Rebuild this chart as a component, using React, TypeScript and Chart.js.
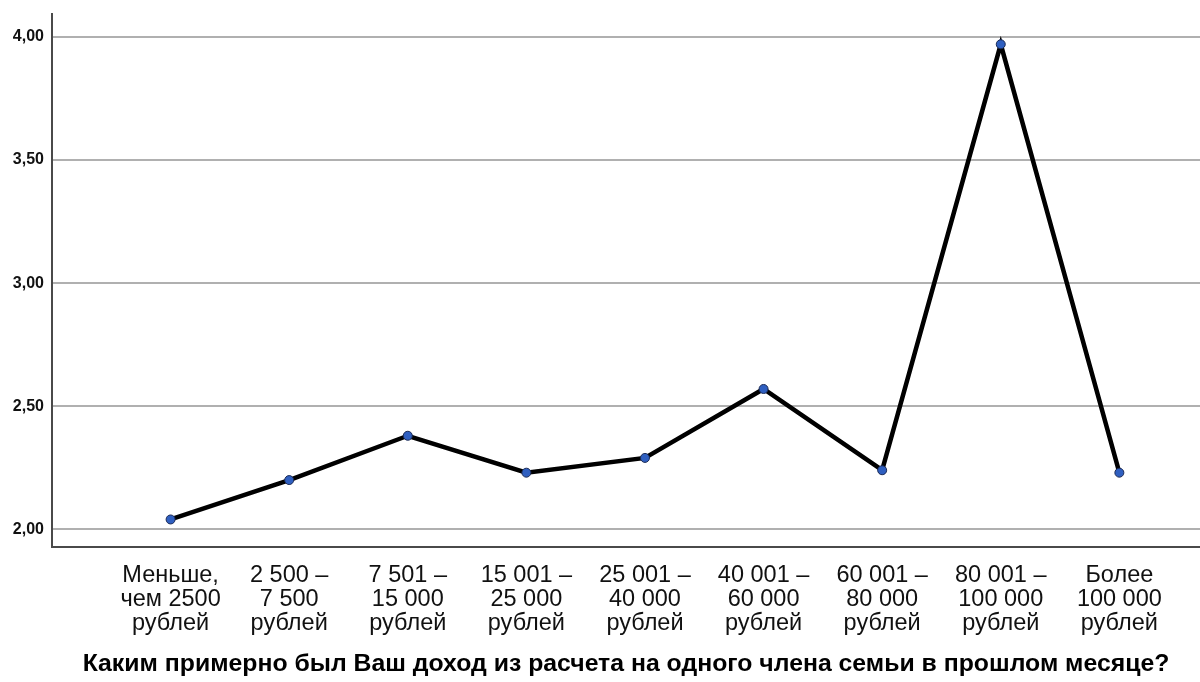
import React, { useEffect, useRef } from "react";
import { Chart, registerables } from "chart.js";

Chart.register(...registerables);

const categories: string[][] = [
  ["Меньше,", "чем 2500", "рублей"],
  ["2 500 –", "7 500", "рублей"],
  ["7 501 –", "15 000", "рублей"],
  ["15 001 –", "25 000", "рублей"],
  ["25 001 –", "40 000", "рублей"],
  ["40 001 –", "60 000", "рублей"],
  ["60 001 –", "80 000", "рублей"],
  ["80 001 –", "100 000", "рублей"],
  ["Более", "100 000", "рублей"],
];

const meanValues: number[] = [2.04, 2.2, 2.38, 2.23, 2.29, 2.57, 2.24, 3.97, 2.23];

const yTicks: number[] = [2.0, 2.5, 3.0, 3.5, 4.0];

const xTitle = "Каким примерно был Ваш доход из расчета на одного члена семьи в прошлом месяце?";

const FONT = "'Liberation Sans', Arial, sans-serif";

export default function App() {
  const canvasRef = useRef<HTMLCanvasElement | null>(null);

  useEffect(() => {
    document.body.style.margin = "0";
    const ctx = canvasRef.current;
    if (!ctx) return;
    const chart = new Chart(ctx, {
      type: "line",
      data: {
        datasets: [
          {
            data: meanValues.map((v, i) => ({ x: i + 1, y: v })),
            borderColor: "#000000",
            borderWidth: 4.5,
            pointRadius: 4.5,
            pointBackgroundColor: "#2f5fc0",
            pointBorderColor: "#1b2a55",
            pointBorderWidth: 1,
            tension: 0,
          },
        ],
      },
      options: {
        animation: false,
        responsive: false,
        devicePixelRatio: 1,
        layout: { autoPadding: false, padding: { top: 14, right: 0, bottom: 1, left: 0 } },
        plugins: {
          legend: { display: false },
          tooltip: { enabled: false },
        },
        scales: {
          x: {
            type: "linear",
            min: 0,
            max: 9.68,
            grid: { display: false, drawTicks: false },
            border: { display: true, color: "#4a4a4a", width: 2 },
            afterBuildTicks: (scale: any) => {
              scale.ticks = categories.map((_, i) => ({ value: i + 1 }));
            },
            afterFit: (scale: any) => {
              scale.paddingRight = 0;
              scale.paddingLeft = 0;
            },
            ticks: {
              autoSkip: false,
              maxRotation: 0,
              minRotation: 0,
              padding: 16,
              color: "#111111",
              font: { family: FONT, size: 23.5, lineHeight: 1.02 },
              callback: (value: any) => categories[Math.round(Number(value)) - 1] ?? "",
            },
            title: {
              display: true,
              text: xTitle,
              color: "#000000",
              padding: { top: 1, bottom: 4 },
              font: { family: FONT, size: 24.8, weight: "bold", lineHeight: 1.0 },
            },
          },
          y: {
            type: "linear",
            min: 1.927,
            max: 4.093,
            afterFit: (scale: any) => {
              scale.width = 52;
              scale.paddingTop = 0;
              scale.paddingBottom = 0;
            },
            afterBuildTicks: (scale: any) => {
              scale.ticks = yTicks.map((v) => ({ value: v }));
            },
            grid: { color: "#b0b0b0", lineWidth: 2, drawTicks: false },
            border: { display: true, color: "#4a4a4a", width: 2 },
            ticks: {
              padding: 8,
              color: "#111111",
              font: { family: FONT, size: 16, weight: "bold" },
              callback: (value: any) => Number(value).toFixed(2).replace(".", ","),
            },
          },
        },
      },
    });
    return () => chart.destroy();
  }, []);

  return (
    <div style={{ position: "absolute", left: 0, top: 0, width: 1200, height: 682, background: "#ffffff" }}>
      <canvas ref={canvasRef} width={1200} height={682} />
    </div>
  );
}
